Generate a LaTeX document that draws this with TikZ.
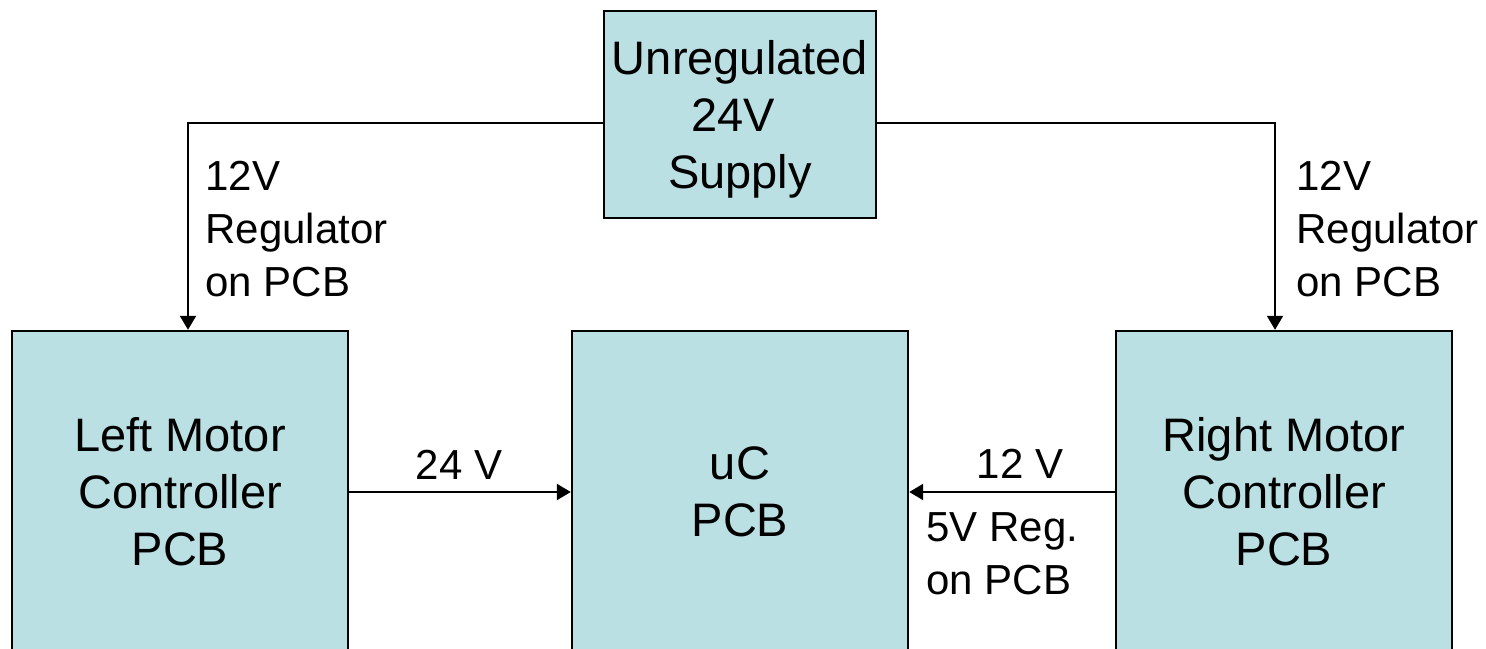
\documentclass[tikz,border=0pt]{standalone}
\usepackage{fontspec}
\setmainfont{Liberation Sans}
\usetikzlibrary{arrows.meta,calc}
\definecolor{boxfill}{RGB}{187,224,227}
\tikzset{
  pcbbox/.style={draw=black, line width=1.2pt, fill=boxfill, align=center,
    font=\fontsize{23.5}{28.5}\selectfont, inner sep=0pt},
  conn/.style={draw=black, line width=1pt, -{Triangle[length=7pt,width=8pt]}},
  lbl/.style={inner sep=0pt, align=left, font=\fontsize{21}{26.5}\selectfont},
}
\begin{document}
\begin{tikzpicture}[x=0.5pt,y=-0.5pt]
\useasboundingbox (0,0) rectangle (1486,648);
\clip (0,0) rectangle (1486,648);
\node[pcbbox, minimum width=136pt, minimum height=103.5pt, text depth=0pt] (sup) at (740,114.5) {Unregulated\\24V\kern.278em\\Supply};
\node[pcbbox, minimum width=168pt, minimum height=161pt] (lm) at (180,492) {Left Motor\\Controller\\PCB};
\node[pcbbox, minimum width=168pt, minimum height=161pt] (uc) at (740,492) {uC\\PCB};
\node[pcbbox, minimum width=168pt, minimum height=161pt] (rm) at (1284,492) {Right Motor\\Controller\\PCB};
\draw[conn] ($(sup.west)+(0,8.5)$) -| ($(lm.north)+(8,0)$);
\draw[conn] ($(sup.east)+(0,8.5)$) -| ($(rm.north)+(-9,0)$);
\draw[conn] (lm.east) -- (uc.west);
\draw[conn] (rm.west) -- (uc.east);
\node[lbl, anchor=north west] (lregl) at (205,161) {12V\\Regulator\\on PCB};
\node[lbl, anchor=north west] (rregl) at (1296,161) {12V\\Regulator\\on PCB};
\node[lbl, anchor=base] (v24) at (459,479) {24 V};
\node[lbl, anchor=base] (v12) at (1020,478) {12 V};
\node[lbl, anchor=north west] (reg5) at (926,512) {5V Reg.\\on PCB};
\end{tikzpicture}
\end{document}
